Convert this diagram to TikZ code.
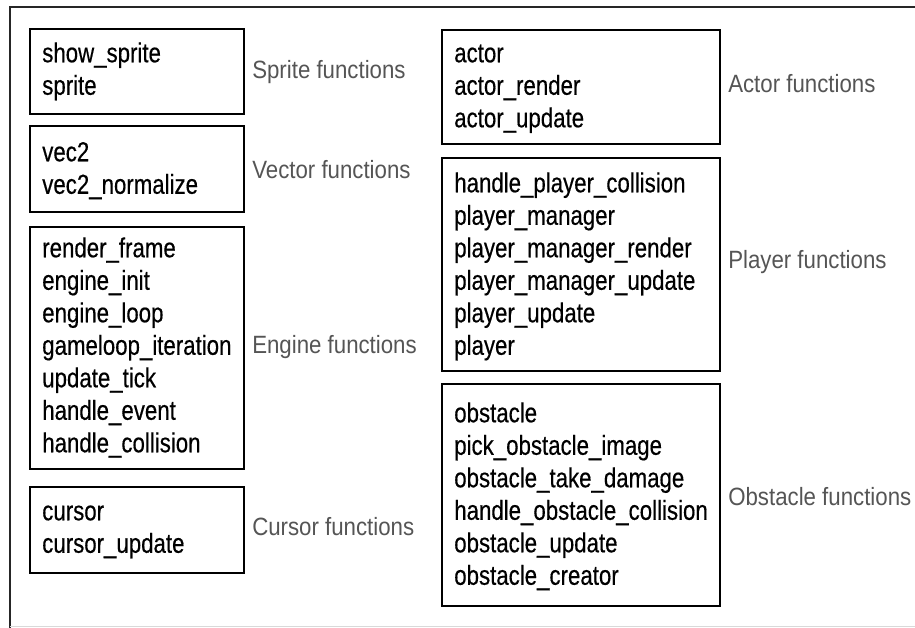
\documentclass[tikz,border=0pt]{standalone}
\usepackage{fontspec}
\setmainfont{Liberation Sans}[FakeStretch=0.81,FakeBold=0.4]
\newfontfamily\labelfont{Liberation Sans}[FakeStretch=0.89]
\definecolor{labelgray}{RGB}{85,85,85}
\newcommand\fst{\rule{0pt}{18pt}}
\tikzset{
  fbox/.style={draw=black, line width=1.6pt, rectangle, inner sep=0pt, anchor=north west},
  flist/.style={anchor=north west, inner sep=0pt, align=left, text=black,
    font=\fontsize{20.6pt}{24.375pt}\selectfont},
  grp/.style={anchor=base west, inner sep=0pt, text=labelgray,
    font=\labelfont\fontsize{18.75pt}{24.375pt}\selectfont},
}
\begin{document}
\begin{tikzpicture}[x=0.75pt,y=-0.75pt]
\useasboundingbox (0,0) rectangle (915,628);
\fill[white] (0,0) rectangle (915,628);
% outer frame
\coordinate (fbl) at (10,628);
\coordinate (ftl) at (10,7);
\coordinate (ftr) at (915,7);
\coordinate (bl) at (10,626.5);
\coordinate (br) at (915,626.5);
\draw[line width=1.5pt, black!85] (fbl) -- (ftl) -- (ftr);
\draw[line width=1pt, black!15] (bl) -- (br);

% left column boxes
\node[fbox, minimum width={214*0.75pt}, minimum height={85*0.75pt}] (spriteb) at (29,28) {};
\node[fbox, minimum width={214*0.75pt}, minimum height={86*0.75pt}] (vectorb) at (29,125) {};
\node[fbox, minimum width={214*0.75pt}, minimum height={242*0.75pt}] (engineb) at (29,226) {};
\node[fbox, minimum width={214*0.75pt}, minimum height={86*0.75pt}] (cursorb) at (29,486) {};

% right column boxes
\node[fbox, minimum width={278*0.75pt}, minimum height={114*0.75pt}] (actorb) at (441,29) {};
\node[fbox, minimum width={278*0.75pt}, minimum height={213*0.75pt}] (playerb) at (441,157) {};
\node[fbox, minimum width={278*0.75pt}, minimum height={222*0.75pt}] (obstacleb) at (441,383) {};

% left texts (first baseline = y + 24)
\node[flist] (spritet) at (42,38) {\fst show\_sprite\\sprite};
\node[flist] (vectort) at (42,137) {\fst vec2\\vec2\_normalize};
\node[flist] (enginet) at (42,233) {\fst render\_frame\\engine\_init\\engine\_loop\\gameloop\_iteration\\update\_tick\\handle\_event\\handle\_collision};
\node[flist] (cursort) at (42,496) {\fst cursor\\cursor\_update};

% right texts
\node[flist] (actort) at (454,38) {\fst actor\\actor\_render\\actor\_update};
\node[flist] (playert) at (454,168) {\fst handle\_player\_collision\\player\_manager\\player\_manager\_render\\player\_manager\_update\\player\_update\\player};
\node[flist] (obstaclet) at (454,398) {\fst obstacle\\pick\_obstacle\_image\\obstacle\_take\_damage\\handle\_obstacle\_collision\\obstacle\_update\\obstacle\_creator};

% group labels
\node[grp] (spritel) at (252,78) {Sprite functions};
\node[grp] (vectorl) at (252,178) {Vector functions};
\node[grp] (enginel) at (252,353) {Engine functions};
\node[grp] (cursorl) at (252,535) {Cursor functions};
\node[grp] (actorl) at (728,92) {Actor functions};
\node[grp] (playerl) at (728,268) {Player functions};
\node[grp] (obstaclel) at (728,505) {Obstacle functions};
\end{tikzpicture}
\end{document}
